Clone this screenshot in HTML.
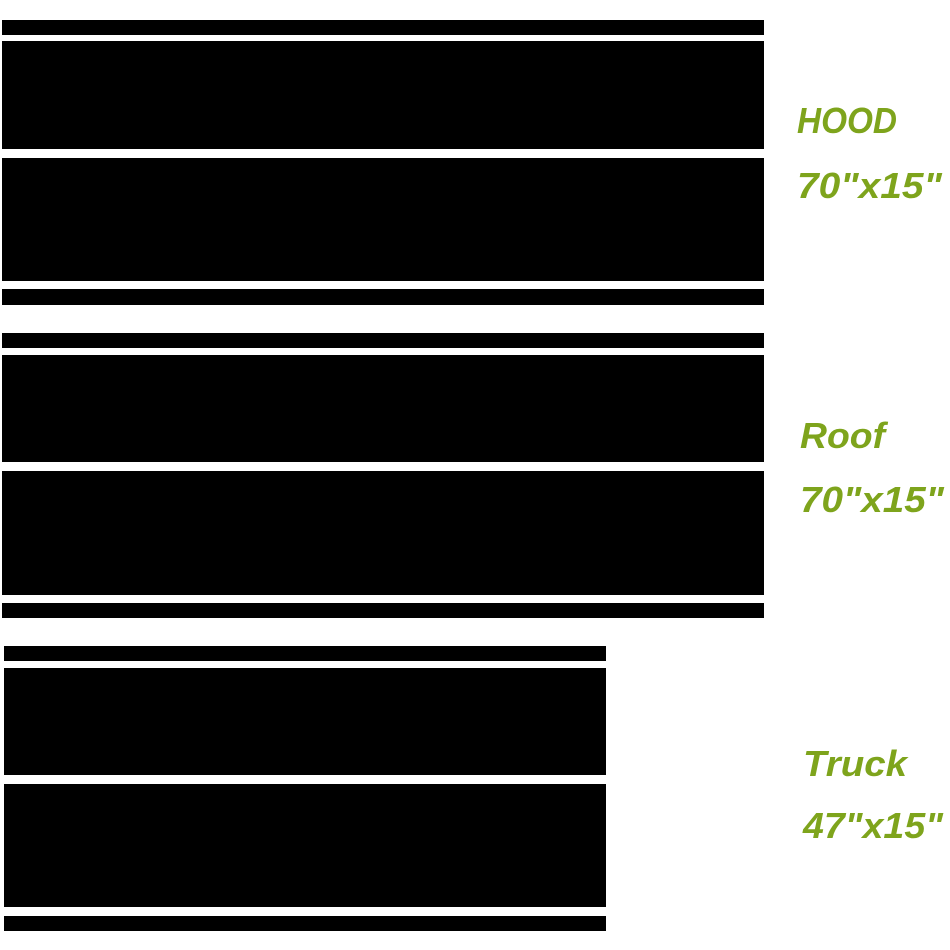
<!DOCTYPE html>
<html><head><meta charset="utf-8"><style>
html,body{margin:0;padding:0;background:#fff;}
svg{display:block}
</style></head><body>
<svg width="950" height="950" viewBox="0 0 950 950" xmlns="http://www.w3.org/2000/svg">
<rect width="950" height="950" fill="#fff"/>
<g fill="#000">
<rect x="2" y="20" width="762" height="15"/>
<rect x="2" y="41" width="762" height="108"/>
<rect x="2" y="158" width="762" height="123"/>
<rect x="2" y="289" width="762" height="16"/>
<rect x="2" y="333" width="762" height="15"/>
<rect x="2" y="355" width="762" height="107"/>
<rect x="2" y="471" width="762" height="124"/>
<rect x="2" y="603" width="762" height="15"/>
<rect x="4" y="646" width="602" height="15"/>
<rect x="4" y="668" width="602" height="107"/>
<rect x="4" y="784" width="602" height="123"/>
<rect x="4" y="916" width="602" height="15"/>
</g>
<g fill="#7ea41c" font-family="Liberation Sans, sans-serif" font-weight="bold" font-style="italic" font-size="36">
<text x="797" y="133" textLength="100" lengthAdjust="spacingAndGlyphs">HOOD</text>
<text x="797" y="198" textLength="145" lengthAdjust="spacingAndGlyphs">70"x15"</text>
<text x="800" y="448" textLength="85" lengthAdjust="spacingAndGlyphs">Roof</text>
<text x="800" y="512" textLength="144" lengthAdjust="spacingAndGlyphs">70"x15"</text>
<text x="803" y="776" textLength="104" lengthAdjust="spacingAndGlyphs">Truck</text>
<text x="803" y="838" textLength="140" lengthAdjust="spacingAndGlyphs">47"x15"</text>
</g>
</svg>
</body></html>
